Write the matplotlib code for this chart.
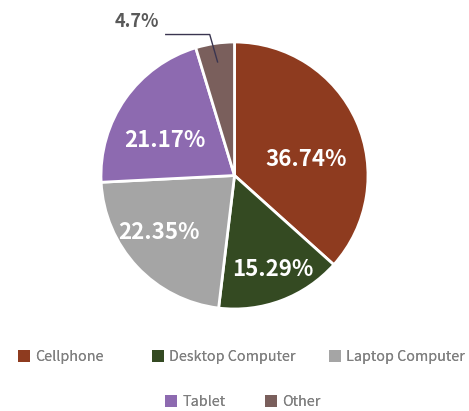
import matplotlib.pyplot as plt
from matplotlib.patches import Patch
import numpy as np

plt.rcParams['font.family'] = ['Noto Sans CJK KR', 'DejaVu Sans']

categories = ["Cellphone", "Desktop Computer", "Laptop Computer", "Tablet", "Other"]
shares = [36.74, 15.29, 22.35, 21.17, 4.7]
colors = ["#8E3B1F", "#344A22", "#A5A5A5", "#8D6AB0", "#7A5F5C"]

# where each percentage label sits: fraction of radius, angle nudge (deg)
label_r = [0.55, 0.75, 0.70, 0.59]
label_nudge = [-10, 2, -7, 7]

# legend slots in figure pixels (left edge of swatch, row centre)
legend_x = [18, 152, 329, 165, 265]
legend_y = [357, 357, 357, 402, 402]

W, H = 469, 411
fig = plt.figure(figsize=(W / 100, H / 100), dpi=100)
ax = fig.add_axes([101 / W, 102 / H, 267 / W, 267 / H])

wedges, _ = ax.pie(shares, colors=colors, startangle=90, counterclock=False,
                   wedgeprops=dict(edgecolor="white", linewidth=2))
ax.set_xlim(-1, 1)
ax.set_ylim(-1, 1)
ax.set_aspect("equal")
ax.axis("off")

for i, w in enumerate(wedges[:4]):
    mid = np.deg2rad((w.theta1 + w.theta2) / 2 + label_nudge[i])
    ax.text(label_r[i] * np.cos(mid), label_r[i] * np.sin(mid) - 0.015,
            f"{shares[i]}%", ha="center", va="center", color="white",
            fontsize=16, fontweight="bold")

# small slice gets an outside label with an elbow leader
w = wedges[4]
mid = np.deg2rad((w.theta1 + w.theta2) / 2)
tip = (0.855 * np.cos(mid), 0.855 * np.sin(mid))
elbow = (tip[0] - 0.06, 1.056)
ax.plot([-0.52, elbow[0], tip[0]], [elbow[1], elbow[1], tip[1]],
        color="#3A3550", lw=1, clip_on=False, solid_capstyle="butt")
ax.text(-0.73, 1.155, f"{shares[4]}%", ha="center", va="center",
        fontsize=13, fontweight="bold", color="#595959")

for name, c, x, y in zip(categories, colors, legend_x, legend_y):
    leg = fig.legend([Patch(facecolor=c, edgecolor="none")], [name],
                     loc="center left", bbox_to_anchor=(x / W, 1 - y / H),
                     frameon=False, borderpad=0, borderaxespad=0,
                     handlelength=0.85, handleheight=0.85, handletextpad=0.35,
                     prop=dict(size=10.3), labelcolor="#7F7F7F")
    fig.add_artist(leg)

fig.savefig("out.png", dpi=100)
